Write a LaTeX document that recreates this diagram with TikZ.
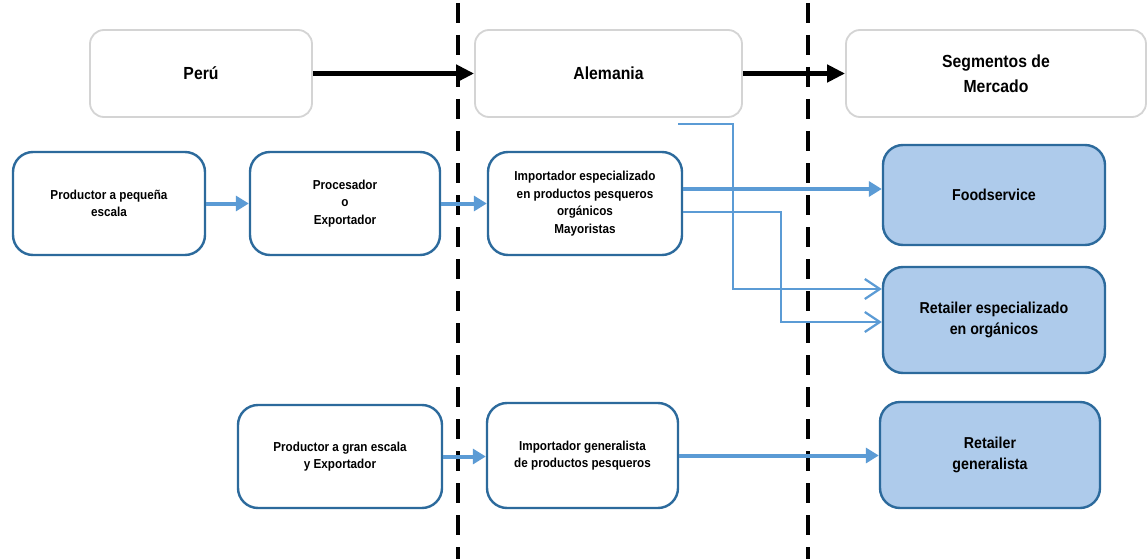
\documentclass[tikz,border=0pt]{standalone}
\usepackage{fontspec}
\setmainfont{Liberation Sans}[FakeStretch=0.9]
\usetikzlibrary{arrows.meta}
\definecolor{lineblue}{HTML}{5B9BD5}
\definecolor{boxblue}{HTML}{2C6A9C}
\definecolor{segfill}{HTML}{AECBEB}
\definecolor{topgray}{HTML}{D4D4D4}
\tikzset{
  topbox/.style={draw=topgray, line width=1.8pt, rounded corners=14pt, fill=white,
    font=\fontsize{17.5}{25}\selectfont\bfseries, align=center},
  flowbox/.style={draw=boxblue, line width=2.4pt, rounded corners=20pt, fill=white,
    font=\fontsize{13}{17.5}\selectfont\bfseries, align=center},
  segbox/.style={draw=boxblue, line width=2.4pt, rounded corners=20pt, fill=segfill,
    font=\fontsize{15.8}{20.5}\selectfont\bfseries, align=center},
  blackarrow/.style={line width=4.5pt, -{Triangle[length=18pt,width=17pt]}},
  bluearrow/.style={draw=lineblue, line width=4pt, -{Triangle[length=13pt,width=15pt]}},
  openarrow/.style={draw=lineblue, line width=2.2pt, -{Straight Barb[length=15pt,width=20pt,line width=2.2pt]}},
  sepline/.style={line width=4pt, dash pattern=on 20pt off 12pt}
}
\begin{document}
\begin{tikzpicture}[x=1pt,y=-1pt]
\useasboundingbox[fill=white] (0,0) rectangle (1148,559);
% separators
\draw[sepline] (458,3) -- (458,559);
\draw[sepline] (808,3) -- (808,559);
% top row
\node[topbox, minimum width=222pt, minimum height=87pt] (peru) at (201,73.5) {Perú};
\node[topbox, minimum width=267pt, minimum height=87pt] (alem) at (608.5,73.5) {Alemania};
\node[topbox, minimum width=300pt, minimum height=87pt] (seg) at (996,73.5) {Segmentos de\\Mercado};
% flow row 1
\node[flowbox, minimum width=192pt, minimum height=103pt] (prodp) at (109,203.5) {Productor a pequeña\\escala};
\node[flowbox, minimum width=190pt, minimum height=103pt] (proc) at (345,203.5) {Procesador\\o\\Exportador};
\node[flowbox, minimum width=194pt, minimum height=103pt] (impe) at (585,203.5) {Importador especializado\\en productos pesqueros\\orgánicos\\Mayoristas};
% flow row 2
\node[flowbox, minimum width=204pt, minimum height=103pt] (prodg) at (340,456.5) {Productor a gran escala\\y Exportador};
\node[flowbox, minimum width=191pt, minimum height=105pt] (impg) at (582.5,455.5) {Importador generalista\\de productos pesqueros};
% segments
\node[segbox, minimum width=222pt, minimum height=100pt] (food) at (994,195) {Foodservice};
\node[segbox, minimum width=222pt, minimum height=106pt] (rete) at (994,320) {Retailer especializado\\en orgánicos};
\node[segbox, minimum width=220pt, minimum height=106pt] (retg) at (990,455) {Retailer\\generalista};
% black arrows
\draw[blackarrow] (peru.east) -- (alem.west);
\draw[blackarrow] (alem.east) -- (seg.west);
% blue arrows
\draw[bluearrow] (prodp.east) -- (prodp.east -| proc.west);
\draw[bluearrow] (proc.east) -- (proc.east -| impe.west);
\coordinate (f1) at ([yshift=14.5pt]impe.east);
\draw[bluearrow] (f1) -- (f1 -| food.west);
\draw[bluearrow] (prodg.east) -- (prodg.east -| impg.west);
\draw[bluearrow] (impg.east) -- (impg.east -| retg.west);
% open arrows to Retailer especializado
\coordinate (s1) at (678,124);
\coordinate (r1) at ([yshift=31pt]rete.west);
\draw[openarrow] (s1) -- ++(55,0) |- (r1);
\coordinate (e2) at ([yshift=-8.5pt]impe.east);
\coordinate (r2) at ([yshift=-2pt]rete.west);
\draw[openarrow] (e2) -- ++(98,0) |- (r2);
\end{tikzpicture}
\end{document}
